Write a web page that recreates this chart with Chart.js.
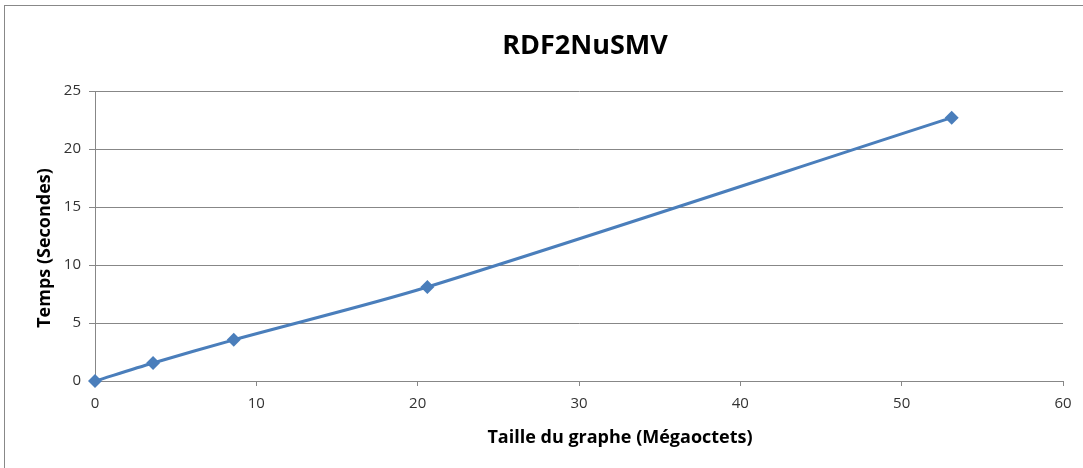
<!DOCTYPE html>
<html>
<head>
<meta charset="utf-8">
<script src="https://cdn.jsdelivr.net/npm/chart.js@4/dist/chart.umd.min.js"></script>
<style>
  body { margin: 0; background: #fff; }
  #wrap { width: 1083px; height: 468px; position: relative; }
</style>
</head>
<body>
<div id="wrap"><canvas id="chart" width="1083" height="468"></canvas></div>
<script>
// données
const chartTitle = 'RDF2NuSMV';
const xTitle = 'Taille du graphe (Mégaoctets)';
const yTitle = 'Temps (Secondes)';
const sizes = [0, 3.6, 8.6, 20.6, 53.1];      // Mo
const times = [0, 1.55, 3.55, 8.1, 22.7];     // secondes
const xTicks = [0, 10, 20, 30, 40, 50, 60];
const yTicks = [0, 5, 10, 15, 20, 25];

const FONT = "'Open Sans', 'Liberation Sans', sans-serif";
const BLUE = '#4a7ebb';
const GRID = '#878787';

const points = sizes.map((x, i) => ({ x: x, y: times[i] }));

// cadre + titres façon Excel
const excelText = {
    id: 'excelText',
    beforeDraw: (chart) => {
        const { ctx } = chart;
        ctx.save();
        ctx.strokeStyle = '#888';
        ctx.lineWidth = 1;
        ctx.strokeRect(4.5, 5.5, 1200, 600);
        ctx.restore();
    },
    afterDraw: (chart) => {
        const { ctx, chartArea } = chart;
        const cx = (chartArea.left + chartArea.right) / 2;
        ctx.save();
        ctx.fillStyle = '#000';
        ctx.textAlign = 'center';
        ctx.textBaseline = 'middle';

        ctx.font = 'bold 27px ' + FONT;
        ctx.fillText(chartTitle, cx + 6, 46);

        ctx.font = 'bold 18px ' + FONT;
        ctx.fillText(xTitle, cx + 41, 438);

        ctx.translate(45, (chartArea.top + chartArea.bottom) / 2 + 12);
        ctx.rotate(-Math.PI / 2);
        ctx.fillText(yTitle, 0, 0);
        ctx.restore();
    }
};

new Chart(document.getElementById('chart'), {
    type: 'scatter',
    data: {
        datasets: [{
            data: points,
            showLine: true,
            clip: false,
            borderColor: BLUE,
            backgroundColor: BLUE,
            borderWidth: 3,
            tension: 0.3,
            pointStyle: 'rectRot',
            pointRadius: 7,
            pointHoverRadius: 7,
            pointBorderWidth: 0
        }]
    },
    options: {
        responsive: false,
        animation: false,
        layout: {
            padding: { left: 0, top: 91, right: 20, bottom: 0 }
        },
        plugins: {
            legend: { display: false },
            title: { display: false },
            tooltip: { enabled: false }
        },
        scales: {
            x: {
                type: 'linear',
                min: 0,
                max: 60,
                afterBuildTicks: (scale) => { scale.ticks = xTicks.map(v => ({ value: v })); },
                afterFit: (scale) => { scale.height = 87; },
                grid: {
                    drawOnChartArea: false,
                    drawTicks: true,
                    tickLength: 5,
                    color: GRID
                },
                border: { color: GRID },
                ticks: {
                    color: '#333',
                    font: { family: FONT, size: 15 },
                    padding: 9,
                    maxRotation: 0
                }
            },
            y: {
                type: 'linear',
                min: 0,
                max: 25,
                afterBuildTicks: (scale) => { scale.ticks = yTicks.map(v => ({ value: v })); },
                afterFit: (scale) => { scale.width = 95; },
                grid: {
                    color: GRID,
                    drawTicks: true,
                    tickLength: 6
                },
                border: { color: GRID },
                ticks: {
                    color: '#333',
                    font: { family: FONT, size: 15 },
                    padding: 8
                }
            }
        }
    },
    plugins: [excelText]
});
</script>
</body>
</html>
